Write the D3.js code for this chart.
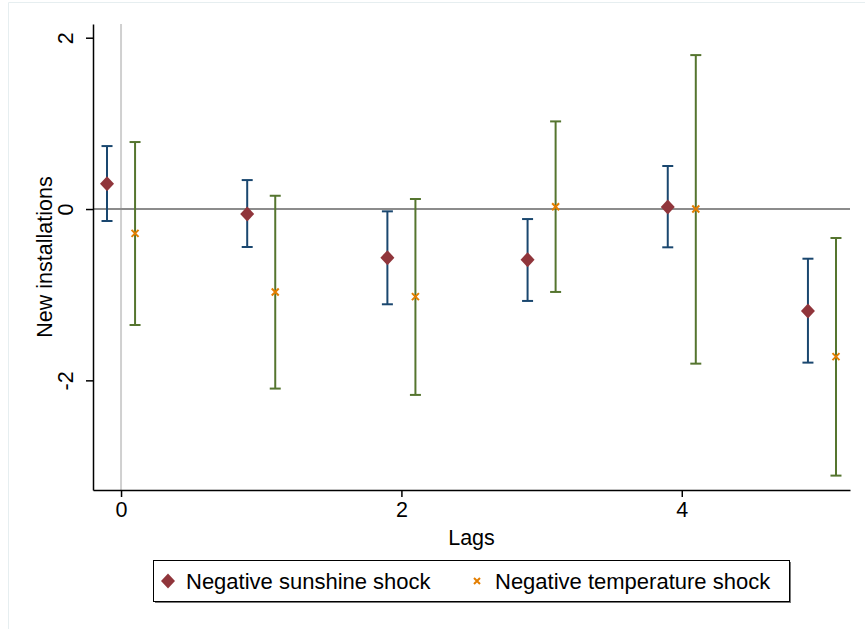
<!DOCTYPE html>
<html>
<head>
<meta charset="utf-8">
<script src="https://cdn.jsdelivr.net/npm/d3@7"></script>
<style>
  body { margin: 0; background: #fff; overflow: hidden; }
  text { font-family: "Liberation Sans", Arial, Helvetica, sans-serif; fill: #000; }
</style>
</head>
<body>
<div id="chart"></div>
<script>
/* data */
var lags = [0, 1, 2, 3, 4, 5],
    sunEst = [0.295, -0.058, -0.568, -0.591, 0.023, -1.19],
    sunLo = [-0.14, -0.443, -1.112, -1.073, -0.447, -1.793],
    sunHi = [0.735, 0.338, -0.027, -0.117, 0.502, -0.58],
    tempEst = [-0.284, -0.968, -1.023, 0.027, 0.0, -1.723],
    tempLo = [-1.354, -2.096, -2.17, -0.968, -1.805, -3.112],
    tempHi = [0.782, 0.155, 0.117, 1.023, 1.797, -0.338],
    xTicks = [0, 2, 4],
    yTicks = [-2, 0, 2],
    seriesNames = ["Negative sunshine shock", "Negative temperature shock"];

/* graphical parameters */
var W = 865, H = 629,
    margin = { top: 24, right: 15, bottom: 139, left: 93 },
    innerWidth = W - margin.left - margin.right,
    innerHeight = H - margin.top - margin.bottom,
    offset = 0.1,
    capW = 11,
    fs = 21.5,
    col = {
        sunCI: "#1a476f",
        sunPt: "#90353b",
        tempCI: "#55752f",
        tempPt: "#e37e00"
    };

var svg = d3.select("#chart").append("svg")
    .attr("width", W)
    .attr("height", H)
    .style("display", "block");

// faint outer frame (only top and left edges show)
svg.append("path")
    .attr("d", "M8.5," + H + "V2.5H" + W)
    .attr("fill", "none")
    .attr("stroke", "#e6eef0");

var main = svg.append("g")
    .attr("transform", "translate(" + margin.left + "," + margin.top + ")");

/* scales */
var x = d3.scaleLinear().domain([-0.2, 5.2]).range([0, innerWidth]),
    y = d3.scaleLinear().domain([-3.28, 2.16]).range([innerHeight, 0]);

// reference lines
main.append("line")
    .attr("x1", x(0)).attr("x2", x(0))
    .attr("y1", 0).attr("y2", innerHeight)
    .attr("stroke", "#d0d0d0").attr("stroke-width", 2);
main.append("line")
    .attr("x1", 0).attr("x2", innerWidth)
    .attr("y1", y(0)).attr("y2", y(0))
    .attr("stroke", "#8c8c8c").attr("stroke-width", 2);

/* axes */
var yAxis = main.append("g")
    .call(d3.axisLeft(y).tickValues(yTicks).tickSize(7).tickSizeOuter(0).tickFormat(d3.format("d")));
yAxis.select(".domain").attr("stroke", "#000").attr("stroke-width", 1.5);
yAxis.selectAll(".tick line").attr("stroke", "#000").attr("stroke-width", 1.5);
yAxis.selectAll(".tick text")
    .attr("font-size", fs)
    .attr("x", null).attr("dy", null)
    .attr("text-anchor", "middle")
    .attr("transform", "translate(-20,0) rotate(-90)")
    .text(function(d) { return d < 0 ? "-" + Math.abs(d) : d; });

var xAxis = main.append("g")
    .attr("transform", "translate(0," + innerHeight + ")")
    .call(d3.axisBottom(x).tickValues(xTicks).tickSize(7).tickSizeOuter(0).tickFormat(d3.format("d")));
xAxis.select(".domain").attr("stroke", "#000").attr("stroke-width", 1.5);
xAxis.selectAll(".tick line").attr("stroke", "#000").attr("stroke-width", 1.5);
xAxis.selectAll(".tick text").attr("font-size", fs).attr("y", 12);

// axis titles
svg.append("text")
    .attr("x", margin.left + innerWidth / 2).attr("y", 545)
    .attr("text-anchor", "middle").attr("font-size", fs)
    .text("Lags");
svg.append("text")
    .attr("transform", "translate(52," + (margin.top + innerHeight / 2) + ") rotate(-90)")
    .attr("text-anchor", "middle").attr("font-size", fs)
    .text("New installations");

/* error bars */
function drawCI(g, lo, hi, dx, color) {
    var grp = g.append("g").attr("stroke", color).attr("stroke-width", 2).attr("fill", "none");
    lags.forEach(function(l, i) {
        var cx = x(l + dx);
        grp.append("line").attr("x1", cx).attr("x2", cx).attr("y1", y(lo[i])).attr("y2", y(hi[i]));
        grp.append("line").attr("x1", cx - capW / 2).attr("x2", cx + capW / 2).attr("y1", y(lo[i])).attr("y2", y(lo[i]));
        grp.append("line").attr("x1", cx - capW / 2).attr("x2", cx + capW / 2).attr("y1", y(hi[i])).attr("y2", y(hi[i]));
    });
}
drawCI(main, sunLo, sunHi, -offset, col.sunCI);
drawCI(main, tempLo, tempHi, offset, col.tempCI);

var diamond = "M0,-7.5L7,0L0,7.5L-7,0Z",
    cross = "M-3.5,-3.5L3.5,3.5M-3.5,3.5L3.5,-3.5";

main.append("g").selectAll("path")
    .data(lags)
    .join("path")
    .attr("transform", function(l, i) { return "translate(" + x(l - offset) + "," + y(sunEst[i]) + ")"; })
    .attr("d", diamond)
    .attr("fill", col.sunPt);

main.append("g").selectAll("path")
    .data(lags)
    .join("path")
    .attr("transform", function(l, i) { return "translate(" + x(l + offset) + "," + y(tempEst[i]) + ")"; })
    .attr("d", cross)
    .attr("stroke", col.tempPt)
    .attr("stroke-width", 2)
    .attr("fill", "none");

/* legend */
var lgd = svg.append("g");
lgd.append("rect")
    .attr("x", 155).attr("y", 562).attr("width", 636).attr("height", 41)
    .attr("fill", "#777");
lgd.append("rect")
    .attr("x", 153.5).attr("y", 560.5).attr("width", 636).attr("height", 41)
    .attr("fill", "#fff").attr("stroke", "#000").attr("stroke-width", 1);
lgd.append("path")
    .attr("transform", "translate(168,581)")
    .attr("d", diamond)
    .attr("fill", col.sunPt);
lgd.append("text")
    .attr("x", 186).attr("y", 589)
    .attr("font-size", 22)
    .text(seriesNames[0]);
lgd.append("path")
    .attr("transform", "translate(477,581)")
    .attr("d", "M-3,-3L3,3M-3,3L3,-3")
    .attr("stroke", col.tempPt).attr("stroke-width", 2);
lgd.append("text")
    .attr("x", 495).attr("y", 589)
    .attr("font-size", 22)
    .text(seriesNames[1]);
</script>
</body>
</html>
